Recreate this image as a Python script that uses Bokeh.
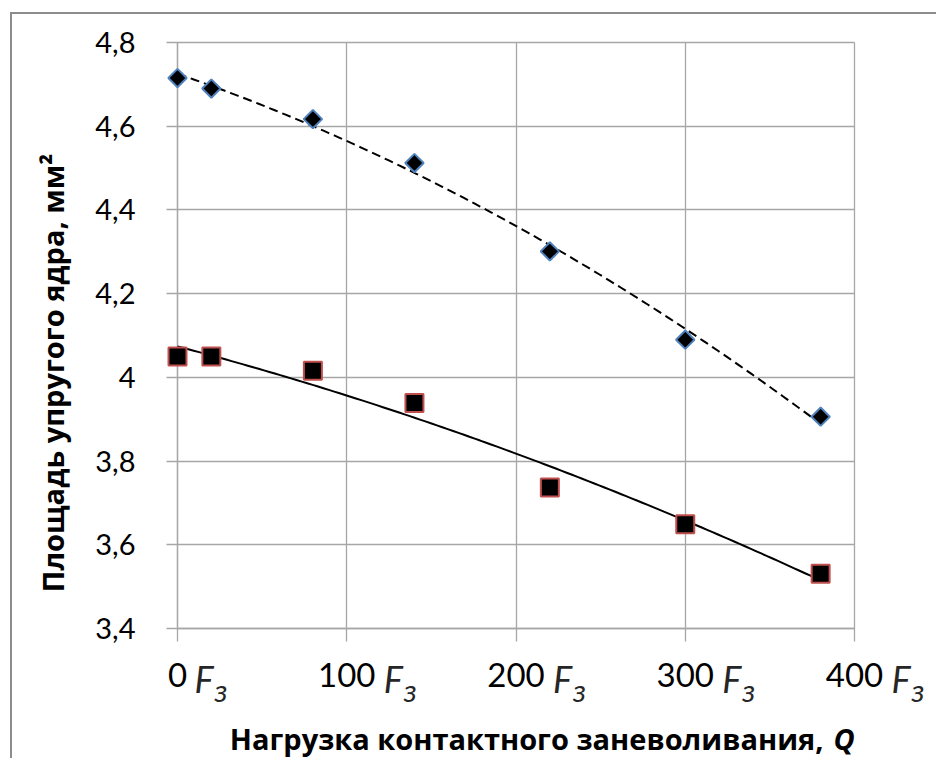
import numpy as np
from bokeh.plotting import figure
from bokeh.models import Range1d, FixedTicker, Label
from bokeh.embed import file_html
from bokeh.resources import INLINE

# ---- data ----
x_load = [0, 20, 80, 140, 220, 300, 380]
area_upper = [4.715, 4.690, 4.617, 4.512, 4.301, 4.090, 3.906]
area_lower = [4.050, 4.050, 4.016, 3.939, 3.737, 3.649, 3.531]

x_ticks = [0, 100, 200, 300, 400]
x_tick_labels = ["0", "100", "200", "300", "400"]
y_ticks = [3.4, 3.6, 3.8, 4.0, 4.2, 4.4, 4.6, 4.8]
y_tick_labels = ["3,4", "3,6", "3,8", "4", "4,2", "4,4", "4,6", "4,8"]

x_unit = "F"
x_unit_sub = "з"
x_title = "Нагрузка контактного заневоливания,"
x_title_var = "Q"
y_title = "Площадь упругого ядра, мм²"

# ---- layout (canvas pixels) ----
FONT = "Lato"
TFONT = "Open Sans"
GRID = "#a6a6a6"
OX, OY = 12, 14                      # canvas origin on the page
W, H = 926, 746                      # canvas size
FL, FR, FT, FB = 165, 842, 28, 614   # plot area edges inside the canvas
X_LIM = (x_ticks[0], x_ticks[-1])
Y_LIM = (y_ticks[0], y_ticks[-1])


def sx(page_x):
    return page_x - OX


def sy(page_y, fs):
    # baseline on the page -> screen y measured from canvas bottom
    return (OY + H) - page_y + 0.38 * fs


ppx = (FR - FL) / (X_LIM[1] - X_LIM[0])
ppy = (FB - FT) / (Y_LIM[1] - Y_LIM[0])
x_range = Range1d(X_LIM[0] - FL / ppx, X_LIM[1] + (W - FR) / ppx)
y_range = Range1d(Y_LIM[0] - (H - FB) / ppy, Y_LIM[1] + FT / ppy)

p = figure(width=W, height=H, output_backend="svg", toolbar_location=None,
           x_range=x_range, y_range=y_range, min_border=0,
           min_border_left=0, min_border_right=0, min_border_top=0, min_border_bottom=0)
p.styles = {"margin-left": "10px", "margin-top": "12px",
            "border-left": "2px solid #8c8c8c", "border-top": "2px solid #8c8c8c"}
p.outline_line_color = None
p.grid.visible = False

# axes placed at the plot-area edges; their long inner ticks form the grid
p.xaxis.fixed_location = Y_LIM[0]
p.yaxis.fixed_location = X_LIM[0]
p.xaxis.bounds = X_LIM
p.yaxis.bounds = Y_LIM
p.xaxis.ticker = FixedTicker(ticks=x_ticks)
p.yaxis.ticker = FixedTicker(ticks=y_ticks)
p.xaxis.major_label_overrides = {t: l for t, l in zip(x_ticks, x_tick_labels)}
p.yaxis.major_label_overrides = {t: l for t, l in zip(y_ticks, y_tick_labels)}

for ax in (p.xaxis[0], p.yaxis[0]):
    ax.level = "underlay"
    ax.axis_line_color = GRID
    ax.axis_line_width = 1.3
    ax.major_tick_line_color = GRID
    ax.major_tick_line_width = 1.3
    ax.minor_tick_line_color = None
    ax.major_label_text_font = FONT
    ax.major_label_text_color = "black"

p.xaxis.major_tick_out = 13
p.xaxis.major_tick_in = FB - FT
p.xaxis.major_label_standoff = 21
p.xaxis.major_label_text_font_size = "33px"
p.yaxis.major_tick_out = 11
p.yaxis.major_tick_in = FR - FL
p.yaxis.major_label_standoff = 31
p.yaxis.major_label_text_font_size = "29px"

# trend lines (2nd order polynomial fit of the data)
xs = np.linspace(min(x_load), max(x_load), 120)
cu = np.polyfit(x_load, area_upper, 2)
cl = np.polyfit(x_load, area_lower, 2)
p.line(xs, np.polyval(cu, xs), line_color="black", line_width=2, line_dash="9 5")
p.line(xs, np.polyval(cl, xs), line_color="black", line_width=2)

p.scatter(x_load, area_upper, marker="square", angle=np.pi / 4, size=13,
          fill_color="black", line_color="#4f81bd", line_width=2)
p.scatter(x_load, area_lower, marker="square", size=18,
          fill_color="black", line_color="#c0504d", line_width=2)

# unit after each tick number: "F з"
for t, lab in zip(x_ticks, x_tick_labels):
    off = len(lab) * 10 + 7
    p.add_layout(Label(x=t, y=sy(692, 36), x_units="data", y_units="screen", x_offset=off,
                       text=x_unit, text_font=FONT, text_font_style="italic",
                       text_font_size="36px", text_color="#262626",
                       text_align="left", text_baseline="alphabetic"))
    p.add_layout(Label(x=t, y=sy(701, 30), x_units="data", y_units="screen", x_offset=off + 20,
                       text=x_unit_sub, text_font=FONT, text_font_style="italic",
                       text_font_size="30px", text_color="#262626",
                       text_align="left", text_baseline="alphabetic"))

# axis titles
p.add_layout(Label(x=sx(823), y=sy(749, 29), x_units="screen", y_units="screen",
                   text=x_title, text_font=TFONT, text_font_style="bold",
                   text_font_size="29px", text_color="black",
                   text_align="right", text_baseline="alphabetic"))
p.add_layout(Label(x=sx(833), y=sy(749, 29), x_units="screen", y_units="screen",
                   text=x_title_var, text_font=TFONT, text_font_style="bold italic",
                   text_font_size="29px", text_color="black",
                   text_align="left", text_baseline="alphabetic"))
p.add_layout(Label(x=sx(63) - 0.38 * 29, y=(OY + H) - 372.5, x_units="screen", y_units="screen",
                   text=y_title, angle=np.pi / 2, text_font=TFONT, text_font_style="bold",
                   text_font_size="29px", text_color="black",
                   text_align="center", text_baseline="alphabetic"))

open("out.html", "w").write(file_html(p, INLINE))
